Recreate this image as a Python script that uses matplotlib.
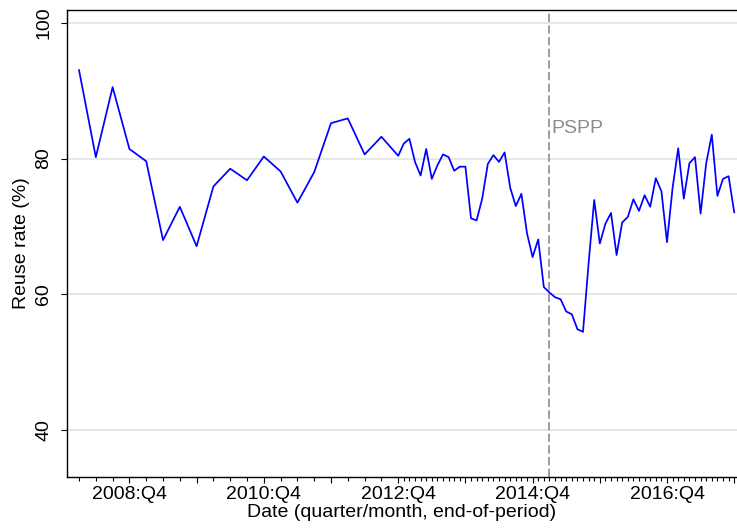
import numpy as np
import pandas as pd
import matplotlib
matplotlib.use("Agg")
import matplotlib.pyplot as plt

# ==========================
# DATA
# ==========================
# quarterly observations, 2008:Q1 - 2012:Q4 (end-of-period)
quarters = pd.period_range("2008Q1", "2012Q4", freq="Q")
reuse_q = [93.0, 80.2, 90.5, 81.4,
           79.6, 68.0, 72.9, 67.1,
           75.9, 78.5, 76.8, 80.3,
           78.1, 73.5, 78.0, 85.2,
           85.9, 80.6, 83.2, 80.4]

# monthly observations, 2013m1 - 2017m12
months = pd.period_range("2013-01", "2017-12", freq="M")
reuse_m = [82.2, 82.9, 79.5, 77.5, 81.4, 77.0, 79.0, 80.6, 80.2, 78.2, 78.8, 78.8,
           71.2, 70.9, 74.1, 79.2, 80.5, 79.5, 80.9, 75.7, 73.0, 74.8, 69.0, 65.5,
           68.1, 61.1, 60.3, 59.6, 59.3, 57.5, 57.1, 54.9, 54.5, 64.6, 73.9, 67.5,
           70.4, 72.0, 65.8, 70.6, 71.4, 74.0, 72.3, 74.6, 72.9, 77.1, 75.2, 67.7,
           75.7, 81.5, 74.1, 79.3, 80.2, 71.9, 79.3, 83.5, 74.5, 77.0, 77.4, 72.1]

tick_labels = ["2008:Q4", "2010:Q4", "2012:Q4", "2014:Q4", "2016:Q4"]
pspp_start = pd.Period("2015-03", freq="M")


def month_index(p):
    # months since Dec 2007, using end-of-period month
    p = p.asfreq("M", how="end")
    return (p.year - 2008) * 12 + p.month


x = [month_index(p) for p in quarters] + [month_index(p) for p in months]
y = reuse_q + reuse_m

# ==========================
# PLOT
# ==========================
plt.rcParams["font.family"] = ["Liberation Sans", "DejaVu Sans"]
plt.rcParams["font.size"] = 14

fig = plt.figure(figsize=(7.37, 5.30), dpi=100)
ax = fig.add_axes([66.7 / 737, 53.3 / 530, 1 - 66.7 / 737, 466.4 / 530])

ax.plot(x, y, color="#0000ff", linewidth=1.25, zorder=3)

ax.axvline(month_index(pspp_start), color="#8c8c8c", linewidth=1.2,
           dashes=(5.0, 2.0), zorder=2)
ax.annotate("PSPP", xy=(month_index(pspp_start), 83.7), xytext=(1.5, 0),
            textcoords="offset points", ha="left", va="baseline",
            color="#8c8c8c", fontsize=14)

ax.set_xlim(0.8, 120.5)
ax.set_ylim(33.2, 101.8)

# y axis
ax.set_yticks([40, 60, 80, 100])
ax.set_yticklabels(["40", "60", "80", "100"], rotation=90, va="center")
ax.yaxis.grid(True, color="#e0e0e0", linewidth=1.1)
ax.set_axisbelow(True)
ax.tick_params(axis="y", length=4.5, width=0.8, pad=6)

# x axis: long ticks every Q4, short ticks at every observation
dec_pos = list(range(12, 121, 12))
dec_lab = []
lab_iter = iter(tick_labels)
for i in range(len(dec_pos)):
    dec_lab.append(next(lab_iter) if i % 2 == 0 else "")
ax.set_xticks(dec_pos)
ax.set_xticklabels(dec_lab)
ax.set_xticks(x, minor=True)
ax.tick_params(axis="x", which="major", length=4.5, width=0.8, pad=2)
ax.tick_params(axis="x", which="minor", length=3.0, width=0.8)

ax.set_xlabel("Date (quarter/month, end-of-period)", labelpad=1)
ax.set_ylabel("Reuse rate (%)", labelpad=4)

for side in ["left", "bottom", "top"]:
    ax.spines[side].set_linewidth(1.0)
ax.spines["right"].set_visible(False)

fig.savefig("out.png", dpi=100)
